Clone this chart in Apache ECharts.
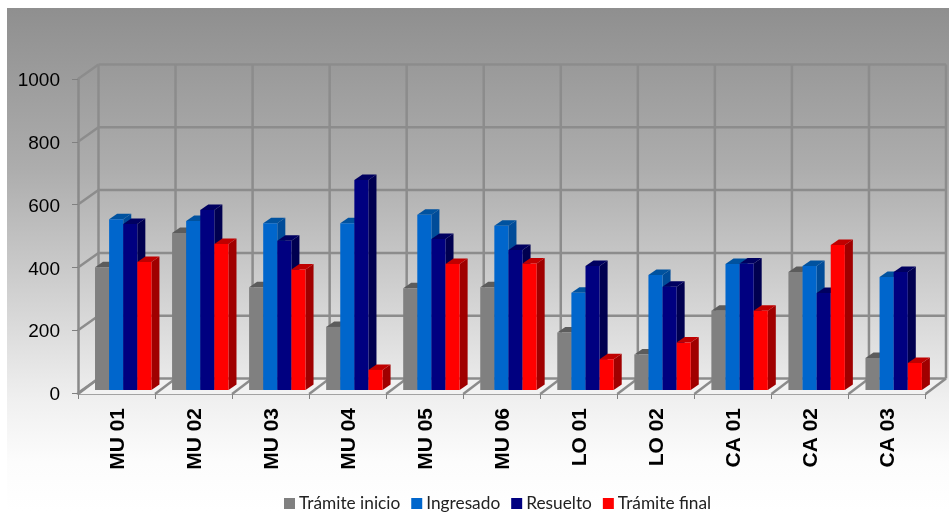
<!DOCTYPE html>
<html><head><meta charset="utf-8">
<style>html,body{margin:0;padding:0;background:#fff}#c{width:949px;height:512px}</style>
<script src="https://cdn.jsdelivr.net/npm/echarts@6/dist/echarts.min.js"></script>
</head><body><div id="c"></div>
<script>
const categories = ['MU 01','MU 02','MU 03','MU 04','MU 05','MU 06','LO 01','LO 02','CA 01','CA 02','CA 03'];
const tramiteInicio = [391,500,327,201,324,327,183,113,252,376,102];
const ingresado     = [544,538,531,531,558,523,310,366,401,395,360];
const resuelto      = [529,573,475,669,481,446,395,329,403,309,376];
const tramiteFinal  = [408,465,384,64,401,403,98,151,252,462,86];
const valueTicks = [0,200,400,600,800,1000];
const boundaries = [0,1,2,3,4,5,6,7,8,9,10,11];

const DX = 20.5, DY = 14.5;            // wall depth
const BAR_DX = 8, BAR_DY = 5.5;        // bar depth
const START = 17/77, BAR_W = 14.1/77;  // bar layout as share of the band
const LIFT = 3;                        // bars stand slightly in from the front edge
const WALL = '#8c8c8c';

function bars(idx, front, side, top){
  return function(params, api){
    const i = api.value(0), v = api.value(1);
    const band = api.size([1,0])[0];
    const c = api.coord([i, v]), b = api.coord([i, 0]);
    const x0 = c[0] - band/2 + band*(START + idx*BAR_W);
    const x1 = x0 + band*BAR_W;
    const y0 = c[1] - LIFT, y1 = b[1] - LIFT;
    return {type:'group', children:[
      {type:'polygon', shape:{points:[[x1,y0],[x1+BAR_DX,y0-BAR_DY],[x1+BAR_DX,y1-BAR_DY],[x1,y1]]}, style:{fill:side}},
      {type:'polygon', shape:{points:[[x0,y0],[x0+BAR_DX,y0-BAR_DY],[x1+BAR_DX,y0-BAR_DY],[x1,y0]]}, style:{fill:top}},
      {type:'rect', shape:{x:x0,y:y0,width:x1-x0,height:y1-y0}, style:{fill:front}}
    ]};
  };
}
function barSeries(name, values, idx, front, side, top){
  return {name, type:'custom', z:3, itemStyle:{color:front},
    renderItem:bars(idx,front,side,top),
    encode:{x:0,y:1},
    data:values.map((v,i)=>[i,v])};
}
function line(a,b,w,col){
  return {type:'line', shape:{x1:a[0],y1:a[1],x2:b[0],y2:b[1]}, style:{stroke:col||WALL,lineWidth:w||2.5}};
}

const chart = echarts.init(document.getElementById('c'));
chart.setOption({
  animation:false,
  backgroundColor:'#ffffff',
  graphic:[{type:'rect', z:-10, silent:true, shape:{x:7,y:8,width:942,height:504},
    style:{fill:new echarts.graphic.LinearGradient(0,0,0,1,[
      {offset:0,color:'#8f8f8f'},{offset:0.32,color:'#adadad'},{offset:0.78,color:'#f0f0f0'},{offset:0.9,color:'#fcfcfc'},{offset:1,color:'#ffffff'}])}}],
  grid:{left:78,right:23.5,top:79,bottom:119,containLabel:false},
  legend:{left:284,top:495,padding:0,itemWidth:11,itemHeight:11,itemGap:11,icon:'rect',
    data:['Trámite inicio','Ingresado','Resuelto','Trámite final'],
    textStyle:{fontFamily:'Lato',fontSize:17.3,color:'#222',padding:[0,0,0,-1]}},
  xAxis:{type:'category',data:categories,
    axisLine:{lineStyle:{color:'#a2a2a2',width:3}},
    axisTick:{show:true,length:6,lineStyle:{color:'#808080',width:1}},
    axisLabel:{rotate:90,interval:0,margin:15,
      formatter:function(v){return '{a|'+v+'}';},
      rich:{a:{fontFamily:'Liberation Sans',fontWeight:'bold',fontSize:21,color:'#000',padding:[3,0,0,0]}}}},
  yAxis:{type:'value',min:0,max:1000,interval:200,
    axisLine:{show:true,lineStyle:{color:'#8a8a8a',width:2.5}},
    axisTick:{show:true,length:6,lineStyle:{color:'#808080',width:1}},
    splitLine:{show:false},
    axisLabel:{margin:18,
      formatter:function(v){return '{a|'+v+'}';},
      rich:{a:{fontFamily:'Liberation Sans',fontSize:19,color:'#000',padding:[4,0,0,0]}}}},
  series:[
    {type:'custom', z:1, silent:true, encode:{x:0,y:1}, data:[[0,0]],
      renderItem(params,api){
        const cs=params.coordSys, y=api.coord([0,0])[1]+1;
        const x0=cs.x, x1=cs.x+cs.width;
        return {type:'polygon',shape:{points:[[x0,y],[x1,y],[x1+DX,y-DY],[x0+DX,y-DY]]},style:{fill:'#f2f2f2'}};
      }},
    {type:'custom', z:2, silent:true, encode:{x:0,y:1}, data:valueTicks.map(v=>[0,v]),
      renderItem(params,api){
        const cs=params.coordSys, y=api.coord([0,api.value(1)])[1];
        const x0=cs.x, x1=cs.x+cs.width;
        return {type:'group',children:[
          line([x0,y],[x0+DX,y-DY]),
          line([x0+DX,y-DY],[x1+DX,y-DY])
        ]};
      }},
    {type:'custom', z:2, silent:true, encode:{x:0,y:1}, data:boundaries.map(b=>[0,b]),
      renderItem(params,api){
        const cs=params.coordSys, band=cs.width/categories.length;
        const i=api.value(1), x=cs.x+i*band;
        const yTop=api.coord([0,1000])[1], yBot=api.coord([0,0])[1];
        return {type:'group',children:[
          line([x+DX,yTop-DY],[x+DX,yBot-DY]),
          line([x,yBot+1],[x+DX,yBot-DY])
        ]};
      }},
    barSeries('Trámite inicio',tramiteInicio,0,'#808080','#5c5c5c','#5c5c5c'),
    barSeries('Ingresado',ingresado,1,'#0066cc','#004c99','#00529f'),
    barSeries('Resuelto',resuelto,2,'#000080','#000050','#000060'),
    barSeries('Trámite final',tramiteFinal,3,'#ff0000','#a00000','#c00000')
  ]
});
</script></body></html>
